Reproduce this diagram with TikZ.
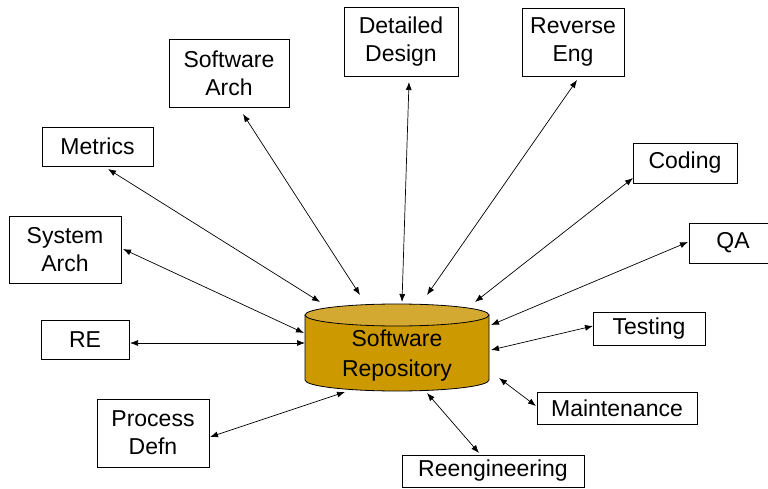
\documentclass[tikz,border=0pt]{standalone}
\usepackage{fontspec}
\setmainfont{Liberation Sans}
\usetikzlibrary{arrows.meta}
\definecolor{repobody}{HTML}{CC9900}
\definecolor{repotop}{HTML}{D4A932}
\tikzset{
  box/.style={draw, line width=0.8pt, align=center, inner sep=0pt, fill=white,
    font=\fontsize{23}{28}\selectfont},
  link/.style={line width=0.7pt, {Latex[length=8pt,width=6pt]}-{Latex[length=8pt,width=6pt]}}
}
\begin{document}
\begin{tikzpicture}[x=1pt,y=-1pt]
\useasboundingbox (0,0) rectangle (768,489);
\fill[white] (0,0) rectangle (768,489);
\clip (0,0) rectangle (768,489);

% repository cylinder
\fill[repobody] (305,315) -- (305,380) arc[start angle=180,end angle=0,x radius=92,y radius=11] -- (489,315) -- cycle;
\draw[line width=0.8pt] (305,315) -- (305,380) arc[start angle=180,end angle=0,x radius=92,y radius=11] -- (489,315);
\draw[line width=0.8pt, fill=repotop] (397,315) ellipse[x radius=92,y radius=11];
\node[align=center, font=\fontsize{23}{30}\selectfont] (repo) at (397,356) {Software\\Repository};

% boxes
\node[box, minimum width=120, minimum height=68] (sa) at (229,73) {Software\\Arch};
\node[box, minimum width=114, minimum height=69] (dd) at (401,41.5) {Detailed\\Design};
\node[box, minimum width=102, minimum height=68] (reng) at (573,42) {Reverse\\Eng};
\node[box, minimum width=111, minimum height=39] (met) at (97.5,146.5) {Metrics};
\node[box, minimum width=104, minimum height=40] (cod) at (685,163) {Coding};
\node[box, minimum width=112, minimum height=67] (sys) at (65,249.5) {System\\Arch};
\node[box, minimum width=88, minimum height=40] (qa) at (733,243) {QA};
\node[box, minimum width=88, minimum height=39] (re) at (85,339.5) {RE};
\node[box, minimum width=112, minimum height=33] (test) at (649,328.5) {Testing};
\node[box, minimum width=160, minimum height=32] (mnt) at (617,408) {Maintenance};
\node[box, minimum width=112, minimum height=68] (pd) at (153,433) {Process\\Defn};
\node[box, minimum width=182, minimum height=32] (reeng) at (493,471) {Reengineering};

% connector end points
\coordinate (saA) at (243,114);  \coordinate (saB) at (360,295);
\coordinate (ddA) at (409,82);   \coordinate (ddB) at (402,302);
\coordinate (rgA) at (577,80);   \coordinate (rgB) at (427,295);
\coordinate (metA) at (108,169); \coordinate (metB) at (320,302);
\coordinate (codA) at (633,178); \coordinate (codB) at (475,302);
\coordinate (sysA) at (123,249); \coordinate (sysB) at (304,333);
\coordinate (qaA) at (688,242);  \coordinate (qaB) at (491,325);
\coordinate (reA) at (130,343);  \coordinate (reB) at (305,343);
\coordinate (testA) at (593,326);\coordinate (testB) at (491,350);
\coordinate (mntA) at (536,406); \coordinate (mntB) at (499,378);
\coordinate (pdA) at (210,437);  \coordinate (pdB) at (345,392);
\coordinate (reeA) at (479,453); \coordinate (reeB) at (427,393);

\draw[link] (saA) -- (saB);
\draw[link] (ddA) -- (ddB);
\draw[link] (rgA) -- (rgB);
\draw[link] (metA) -- (metB);
\draw[link] (codA) -- (codB);
\draw[link] (sysA) -- (sysB);
\draw[link] (qaA) -- (qaB);
\draw[link] (reA) -- (reB);
\draw[link] (testA) -- (testB);
\draw[link] (mntA) -- (mntB);
\draw[link] (pdA) -- (pdB);
\draw[link] (reeA) -- (reeB);
\end{tikzpicture}
\end{document}
